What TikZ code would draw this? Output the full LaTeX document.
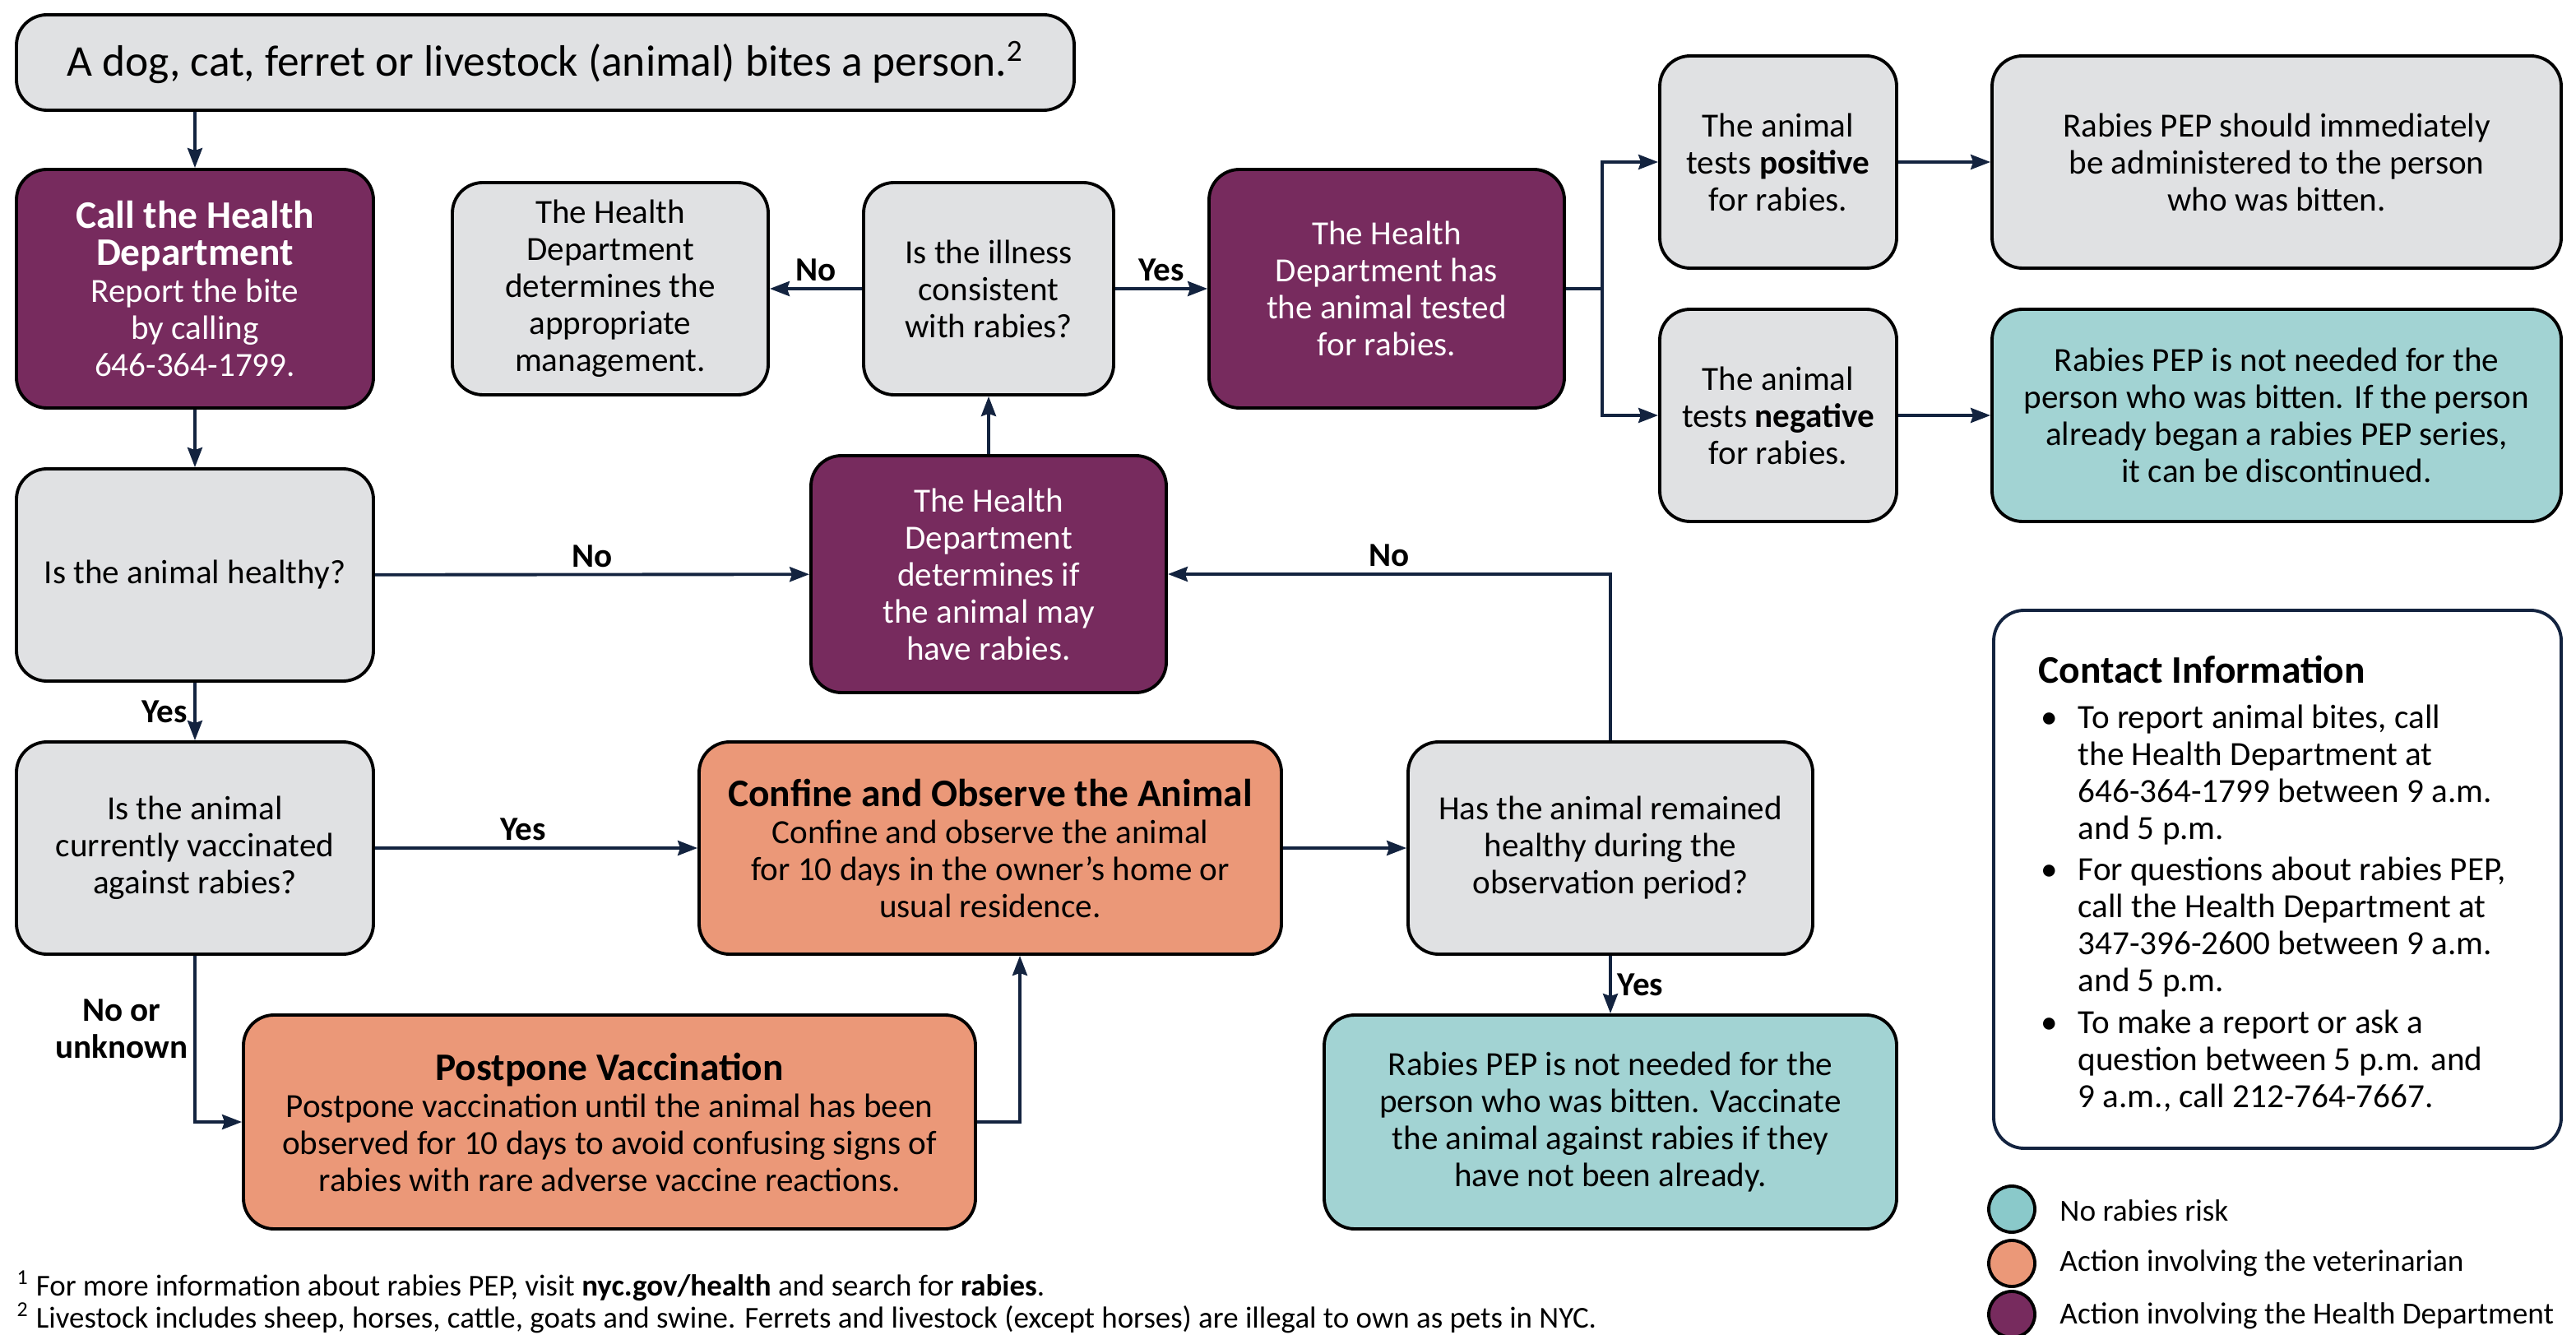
\documentclass[tikz,border=0pt]{standalone}
\usepackage{fontspec}
\setmainfont{Carlito}
\usetikzlibrary{arrows.meta}
\definecolor{boxgray}{HTML}{E0E1E3}
\definecolor{hdpurple}{HTML}{772B5E}
\definecolor{vetorange}{HTML}{EB9878}
\definecolor{norisk}{HTML}{A2D3D3}
\definecolor{noriskkey}{HTML}{8AC9CA}
\definecolor{arrownavy}{HTML}{13233F}
\newcommand\bodysize{\fontsize{11.7}{12.8}\selectfont}
\newcommand\headsize{\fontsize{13.5}{14}\selectfont\bfseries}
\newcommand\titlesize{\fontsize{15.2}{16}\selectfont}
\newcommand\keysize{\fontsize{10.6}{12}\selectfont}
\newcommand\notesize{\fontsize{10.5}{11}\selectfont}
\newcommand\bul{\makebox[0.48cm][l]{\hspace{0.03cm}\textbullet}}
\tikzset{
  gbox/.style={draw=black,line width=1.1pt,rounded corners=0.37cm,fill=boxgray,align=center,inner sep=0pt,font=\bodysize},
  pbox/.style={gbox,fill=hdpurple,text=white},
  obox/.style={gbox,fill=vetorange},
  tbox/.style={gbox,fill=norisk},
  arr/.style={draw=arrownavy,line width=1.1pt,-{Stealth[length=0.24cm,width=0.18cm,inset=0.03cm]}},
  lab/.style={font=\bodysize\bfseries,inner sep=2pt},
  keydot/.style={circle,draw=black,line width=1.1pt,minimum size=0.56cm,inner sep=0pt}
}

\begin{document}
\begin{tikzpicture}[x=1cm,y=-1cm]
  \useasboundingbox (0,0) rectangle (31.32,16.23);

  \node[gbox,minimum width=12.86cm,minimum height=1.16cm,font=\titlesize] (bite) at (6.63,0.76)
    {A dog, cat, ferret or livestock (animal) bites a person.\textsuperscript{2}};
  \node[pbox,minimum width=4.34cm,minimum height=2.90cm] (call) at (2.37,3.51)
    {{\headsize Call the Health}\\{\headsize Department}\\Report the bite\\by calling\\646-364-1799.};
  \node[gbox,minimum width=4.34cm,minimum height=2.58cm] (healthy) at (2.37,6.99) {Is the animal healthy?};
  \node[gbox,minimum width=4.34cm,minimum height=2.58cm] (vacc) at (2.37,10.31)
    {Is the animal\\currently vaccinated\\against rabies?};
  \node[obox,minimum width=8.90cm,minimum height=2.60cm] (postpone) at (7.41,13.64)
    {{\headsize Postpone Vaccination}\\Postpone vaccination until the animal has been\\observed for 10 days to avoid confusing signs of\\rabies with rare adverse vaccine reactions.};
  \node[obox,minimum width=7.08cm,minimum height=2.58cm] (confine) at (12.04,10.31)
    {{\headsize Confine and Observe the Animal}\\Confine and observe the animal\\for 10 days in the owner’s home or\\usual residence.};
  \node[pbox,minimum width=4.32cm,minimum height=2.88cm] (determ) at (12.02,6.98)
    {The Health\\Department\\determines if\\the animal may\\have rabies.};
  \node[gbox,minimum width=3.04cm,minimum height=2.58cm] (illness) at (12.02,3.51)
    {Is the illness\\consistent\\with rabies?};
  \node[gbox,minimum width=3.84cm,minimum height=2.58cm] (manage) at (7.42,3.51)
    {The Health\\Department\\determines the\\appropriate\\management.};
  \node[pbox,minimum width=4.32cm,minimum height=2.90cm] (tested) at (16.86,3.51)
    {The Health\\Department has\\the animal tested\\for rabies.};
  \node[gbox,minimum width=2.88cm,minimum height=2.58cm] (positive) at (21.62,1.97)
    {The animal\\tests \textbf{positive}\\for rabies.};
  \node[gbox,minimum width=2.88cm,minimum height=2.58cm] (negative) at (21.62,5.05)
    {The animal\\tests \textbf{negative}\\for rabies.};
  \node[gbox,minimum width=6.92cm,minimum height=2.58cm] (immed) at (27.68,1.97)
    {Rabies PEP should immediately\\be administered to the person\\who was bitten.};
  \node[tbox,minimum width=6.92cm,minimum height=2.58cm] (notneeded) at (27.68,5.05)
    {Rabies PEP is not needed for the\\person who was bitten. If the person\\already began a rabies PEP series,\\it can be discontinued.};
  \node[gbox,minimum width=4.92cm,minimum height=2.58cm] (remained) at (19.58,10.31)
    {Has the animal remained\\healthy during the\\observation period?};
  \node[tbox,minimum width=6.96cm,minimum height=2.60cm] (vaccinate) at (19.58,13.64)
    {Rabies PEP is not needed for the\\person who was bitten. Vaccinate\\the animal against rabies if they\\have not been already.};

  \node[gbox,fill=white,draw=arrownavy,minimum width=6.90cm,minimum height=6.54cm] (contact) at (27.69,10.69) {};
  \node[anchor=north west,inner sep=0pt,font=\bodysize] (contacttext) at (24.78,7.96)
    {\begin{tabular}{@{}l@{}l@{}}
     \multicolumn{2}{@{}l@{}}{\headsize Contact Information}\\[3pt]
     \bul & To report animal bites, call\\
          & the Health Department at\\
          & 646-364-1799 between 9 a.m.\\
          & and 5 p.m.\\[1.5pt]
     \bul & For questions about rabies PEP,\\
          & call the Health Department at\\
          & 347-396-2600 between 9 a.m.\\
          & and 5 p.m.\\[1.5pt]
     \bul & To make a report or ask a\\
          & question between 5 p.m. and\\
          & 9 a.m., call 212-764-7667.
     \end{tabular}};

  \node[keydot,fill=noriskkey] (keynone) at (24.46,14.70) {};
  \node[keydot,fill=vetorange] (keyvet) at (24.46,15.36) {};
  \node[keydot,fill=hdpurple] (keyhd) at (24.46,15.98) {};
  \node[anchor=west,font=\keysize] (keynonetext) at (24.92,14.72) {No rabies risk};
  \node[anchor=west,font=\keysize] (keyvettext) at (24.92,15.36) {Action involving the veterinarian};
  \node[anchor=west,font=\keysize] (keyhdtext) at (24.92,16.00) {Action involving the Health Department};

  \node[anchor=base west,font=\notesize,inner sep=0pt] (note1) at (0.20,15.75)
    {\textsuperscript{1} For more information about rabies PEP, visit \textbf{nyc.gov/health} and search for \textbf{rabies}.};
  \node[anchor=base west,font=\notesize,inner sep=0pt] (note2) at (0.20,16.14)
    {\textsuperscript{2} Livestock includes sheep, horses, cattle, goats and swine. Ferrets and livestock (except horses) are illegal to own as pets in NYC.};

  \draw[arr] (bite.south -| call.north) -- (call.north);
  \draw[arr] (call) -- (healthy);
  \draw[arr] (healthy) -- node[lab,left] {Yes} (vacc);
  \draw[arr] (healthy) -- node[lab,above] {No} (determ);
  \draw[arr] (determ) -- (illness);
  \draw[arr] (illness) -- node[lab,above] {No} (manage);
  \draw[arr] (illness) -- node[lab,above] {Yes} (tested);
  \draw[arr] (tested.east) -- ++(0.44,0) |- (positive);
  \draw[arr] (tested.east) -- ++(0.44,0) |- (negative);
  \draw[arr] (positive) -- (immed);
  \draw[arr] (negative) -- (notneeded);
  \draw[arr] (vacc) -- node[lab,above,pos=0.46] {Yes} (confine);
  \draw[arr] (vacc) |- node[lab,left,pos=0.22,align=center] {No or\\unknown} (postpone);
  \draw[arr] (postpone.east) -| ([xshift=0.36cm]confine.south);
  \draw[arr] (confine) -- (remained);
  \draw[arr] (remained) |- node[lab,above,pos=0.75] {No} (determ);
  \draw[arr] (remained) -- node[lab,right] {Yes} (vaccinate);
\end{tikzpicture}
\end{document}
